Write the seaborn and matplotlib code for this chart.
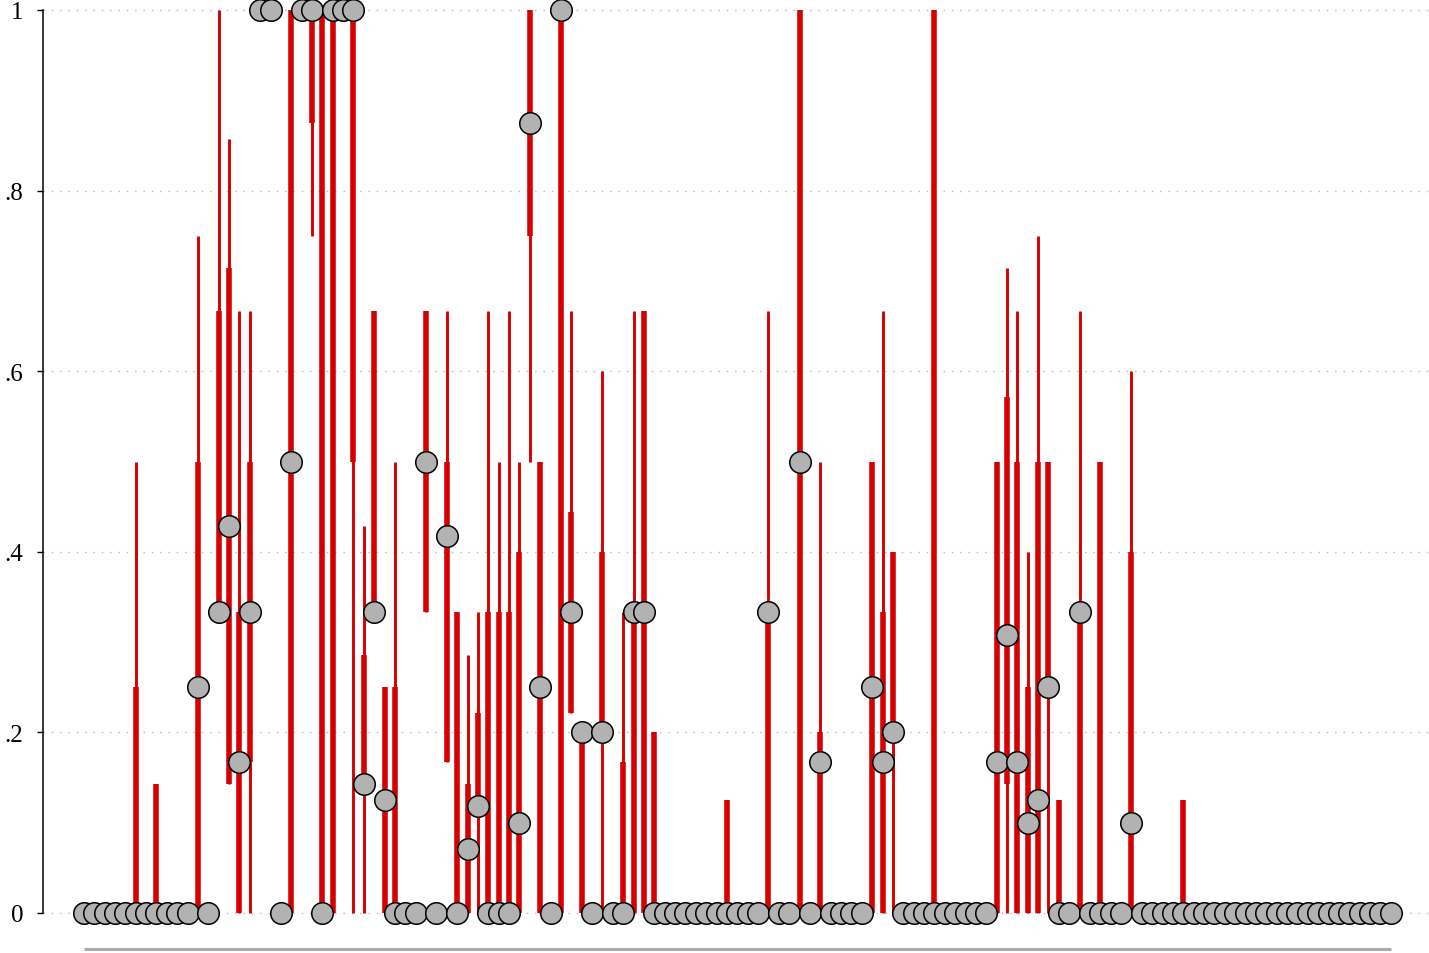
import numpy as np
import pandas as pd
import matplotlib
matplotlib.use("Agg")
import matplotlib.pyplot as plt
import seaborn as sns

sns.set_theme(style="white")
plt.rcParams["font.family"] = ["Liberation Serif", "DejaVu Serif"]

# Estimated share for each of the 127 units (in display order)
share = [
    0, 0, 0, 0, 0, 0, 0, 0, 0, 0,
    0, .25, 0, .333, .429, .167, .333, 1, 1, 0,
    .5, 1, 1, 0, 1, 1, 1, .143, .333, .125,
    0, 0, 0, .5, 0, .417, 0, .071, .118, 0,
    0, 0, .1, .875, .25, 0, 1, .333, .2, 0,
    .2, 0, 0, .333, .333, 0, 0, 0, 0, 0,
    0, 0, 0, 0, 0, 0, .333, 0, 0, .5,
    0, .167, 0, 0, 0, 0, .25, .167, .2, 0,
    0, 0, 0, 0, 0, 0, 0, 0, .167, .308,
    .167, .1, .125, .25, 0, 0, .333, 0, 0, 0,
    0, .1, 0, 0, 0, 0, 0, 0, 0, 0,
    0, 0, 0, 0, 0, 0, 0, 0, 0, 0,
    0, 0, 0, 0, 0, 0, 0,
]

# Units that carry an interval, with inner (thick) and outer (thin) bounds
bar_unit = [5, 7, 11, 13, 14, 15, 16, 20, 22, 23, 24, 26, 27, 28, 29, 30,
            33, 35, 36, 37, 38, 39, 40, 41, 42, 43, 44, 46, 47, 48, 50, 52,
            53, 54, 55, 62, 66, 69, 71, 76, 77, 78, 82, 88, 89, 90, 91, 92,
            93, 94, 96, 98, 101, 106]
inner_lo = [0, 0, 0, .333, .143, 0, .167, 0, .875, 0, 0, .5, .143, .333, 0, 0,
            .333, .167, 0, 0, .118, 0, 0, 0, 0, .75, 0, 0, .222, 0, .2, 0,
            0, 0, 0, 0, 0, 0, 0, 0, 0, .2, 0, 0, .143, 0, 0, 0,
            .25, 0, 0, 0, 0, 0]
inner_hi = [.25, .143, .5, .667, .714, .333, .5, 1, 1, 1, 1, 1, .286, .667, .25, .25,
            .667, .5, .333, .143, .222, .333, .333, .333, .4, 1, .5, 1, .444, .2, .4, .167,
            .333, .667, .2, .125, .333, 1, .2, .5, .333, .4, 1, .5, .571, .5, .25, .5,
            .5, .125, .333, .5, .4, .125]
outer_lo = [0, 0, 0, .333, .143, 0, 0, 0, .75, 0, 0, 0, 0, .333, 0, 0,
            .333, .167, 0, 0, 0, 0, 0, 0, 0, .5, 0, 0, .222, 0, 0, 0,
            0, 0, 0, 0, 0, 0, 0, 0, 0, 0, 0, 0, 0, 0, 0, 0,
            0, 0, 0, 0, 0, 0]
outer_hi = [.5, .143, .75, 1, .857, .667, .667, 1, 1, 1, 1, 1, .429, .667, .25, .5,
            .667, .667, .333, .286, .333, .667, .5, .667, .5, 1, .5, 1, .667, .2, .6, .333,
            .667, .667, .2, .125, .667, 1, .5, .5, .667, .4, 1, .5, .714, .667, .4, .75,
            .5, .125, .667, .5, .6, .125]

ytick_vals = [0, .2, .4, .6, .8, 1]
ytick_text = ["0", ".2", ".4", ".6", ".8", "1"]

points = pd.DataFrame({"unit": np.arange(len(share)), "share": share})
bars = pd.DataFrame({"unit": bar_unit, "inner_lo": inner_lo, "inner_hi": inner_hi,
                     "outer_lo": outer_lo, "outer_hi": outer_hi})

W, H = 1429, 954
fig = plt.figure(figsize=(W / 100, H / 100), dpi=100)
fig.patch.set_facecolor("white")
ax = fig.add_axes([43 / W, 0, (W - 43) / W, 1])
ax.set_facecolor("white")

red = "#d60000"
ax.vlines(bars["unit"], bars["outer_lo"], bars["outer_hi"], color=red,
          linewidth=2.1, zorder=1)
ax.vlines(bars["unit"], bars["inner_lo"], bars["inner_hi"], color=red,
          linewidth=4.0, zorder=2)

sns.scatterplot(data=points, x="unit", y="share", s=240, color="#b2b2b2",
                edgecolor="black", linewidth=1.1, zorder=3, clip_on=False,
                legend=False, ax=ax)

# light baseline under the units
n = len(share)
ax.plot([0, n - 1], [-0.0399, -0.0399], color="#ababab", linewidth=2.2,
        solid_capstyle="butt", clip_on=False, zorder=0)

px_per_unit = 10.373
ax.set_xlim(-(83.8 - 43) / px_per_unit, (n - 1) + (W - 1390.8) / px_per_unit)
ax.set_ylim(-(H - 914) / 903, 1 + 11 / 903)

ax.set_yticks(ytick_vals)
ax.set_yticklabels(ytick_text)
ax.yaxis.grid(True, linestyle=(0, (1, 5)), color="#b8b8b8", linewidth=1.0)
ax.xaxis.grid(False)
ax.set_xticks([])
ax.set_xlabel("")
ax.set_ylabel("")

for side in ["top", "right", "bottom"]:
    ax.spines[side].set_visible(False)
ax.spines["left"].set_bounds(0, 1)
ax.spines["left"].set_color("black")
ax.spines["left"].set_linewidth(1.1)
ax.tick_params(axis="y", which="both", left=True, length=4, width=1.0,
               color="black", pad=10, labelsize=18, labelcolor="black")

fig.savefig("out.png", dpi=100, facecolor="white")
